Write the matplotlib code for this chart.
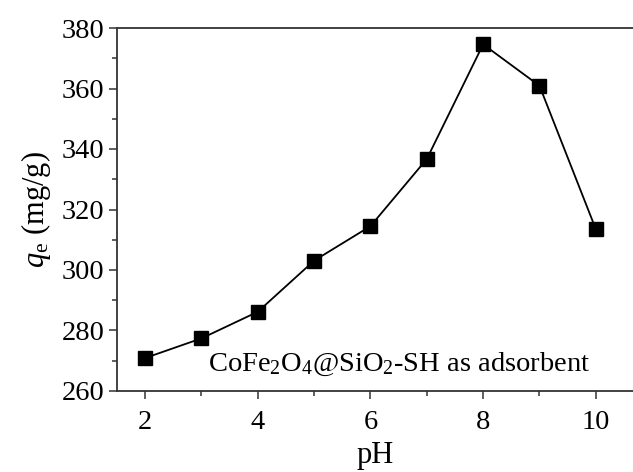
import matplotlib
matplotlib.use("Agg")
import matplotlib.pyplot as plt
from matplotlib.ticker import MultipleLocator

# adsorption capacity versus solution pH
ph = [2, 3, 4, 5, 6, 7, 8, 9, 10]
qe = [270.9, 277.4, 286.2, 303.1, 314.5, 336.7, 374.6, 360.9, 313.5]

plt.rcParams['font.family'] = ['Liberation Serif', 'DejaVu Serif']
plt.rcParams['mathtext.fontset'] = 'custom'
plt.rcParams['mathtext.rm'] = 'Liberation Serif'
plt.rcParams['mathtext.it'] = 'Liberation Serif:italic'

fig = plt.figure(figsize=(6.33, 4.72), dpi=100)
ax = fig.add_axes([117 / 633, 1 - 391 / 472, 1 - 117 / 633, (391 - 28) / 472])

ax.plot(ph, qe, color='black', linewidth=1.3, marker='s', markersize=9.5,
        markerfacecolor='black', markeredgecolor='black')

ax.set_xlim(1.5, 10.66)
ax.set_ylim(260, 380)
ax.xaxis.set_major_locator(MultipleLocator(2))
ax.xaxis.set_minor_locator(MultipleLocator(1))
ax.yaxis.set_major_locator(MultipleLocator(20))
ax.yaxis.set_minor_locator(MultipleLocator(10))

ax.tick_params(which='major', direction='out', length=6, width=1.1,
               labelsize=20.5, top=False, right=False, color='#333333')
ax.tick_params(axis='x', which='major', pad=8)
ax.tick_params(axis='y', which='major', pad=3)
ax.tick_params(which='minor', direction='out', length=3.5, width=1.1,
               top=False, right=False, color='#333333')
for side in ax.spines.values():
    side.set_linewidth(1.3)
    side.set_color('#333333')
ax.spines['right'].set_visible(False)

ax.set_xlabel('pH', fontsize=22, labelpad=4)
ax.set_ylabel(r'$q$$_{\mathrm{e}}$ (mg/g)', fontsize=22, labelpad=6)

ax.text(6.5, 266.8, r'CoFe$_2$O$_4$@SiO$_2$-SH as adsorbent',
        fontsize=20.5, ha='center', va='baseline')

fig.savefig('out.png', dpi=100)
